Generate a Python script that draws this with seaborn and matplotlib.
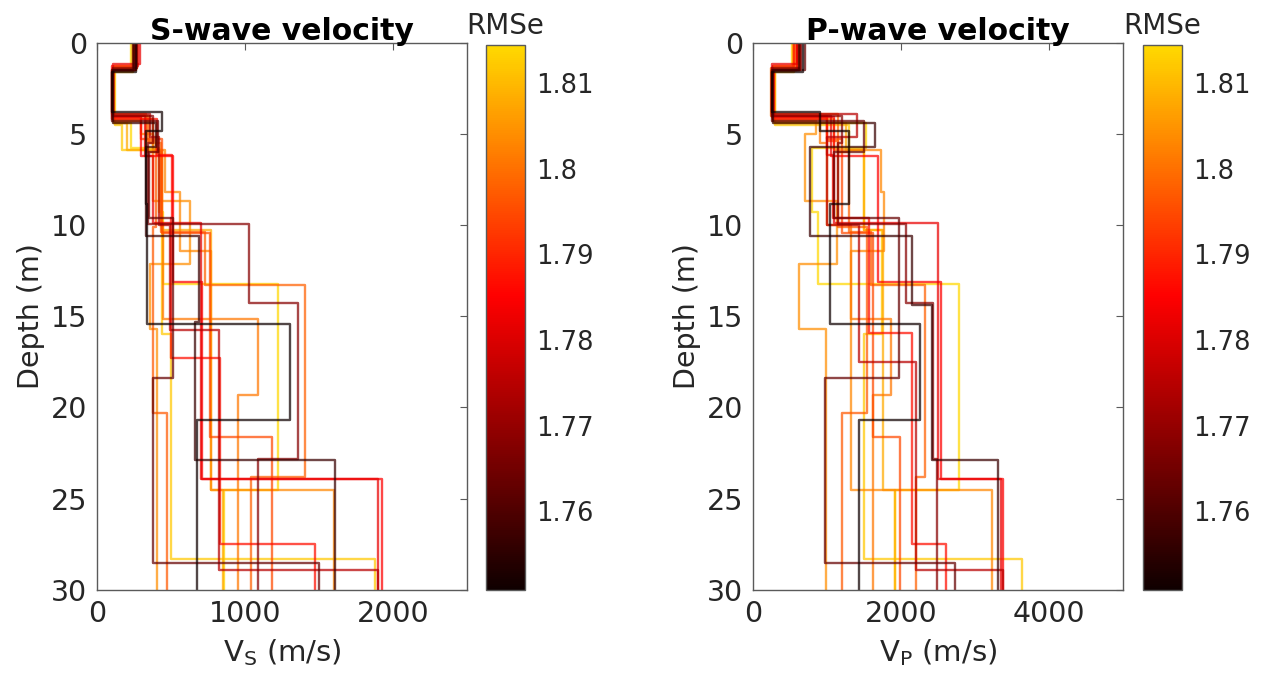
import numpy as np
import pandas as pd
import matplotlib
matplotlib.use("Agg")
import matplotlib.pyplot as plt
import seaborn as sns
from matplotlib.colors import LinearSegmentedColormap, Normalize
from matplotlib.cm import ScalarMappable

# ---------------- data (one entry per inverted model) ----------------
rmse = [1.751, 1.757, 1.768, 1.785, 1.787, 1.775, 1.763, 1.812, 1.814,
        1.803, 1.801, 1.798, 1.795, 1.804, 1.797, 1.782, 1.808]

# bottom depth of each layer (m)
layer_bottoms = [
    [1.6, 3.8, 4.85, 8.85, 15.45, 20.7, 30],
    [1.5, 4.4, 5.74, 10.6, 14.4, 15.3, 22.9, 30],
    [1.4, 4.0, 5.5, 9.95, 14.26, 22.8, 30],
    [1.5, 4.1, 6.2, 13.1, 23.9, 30],
    [1.3, 4.2, 6.16, 9.63, 15.9, 17.3, 27.5, 30],
    [1.5, 3.9, 5.2, 10.0, 15.75, 17.5, 28.9, 30],
    [1.5, 4.3, 6.0, 9.63, 18.4, 28.5, 30],
    [1.4, 4.5, 5.9, 10.3, 16.0, 28.3, 30],
    [1.3, 4.4, 5.8, 9.3, 13.25, 24.5, 30],
    [1.5, 4.2, 5.9, 8.2, 11.4, 24.5, 30],
    [1.4, 4.0, 5.5, 10.0, 15.17, 19.3, 30],
    [1.5, 3.9, 6.0, 10.4, 13.3, 23.8, 30],
    [1.5, 4.1, 5.3, 10.45, 21.6, 30],
    [1.5, 4.3, 5.0, 8.7, 12.15, 15.7, 30],
    [1.4, 4.0, 5.4, 10.1, 20.3, 30],
    [1.2, 4.0, 6.2, 9.9, 23.9, 30],
    [1.6, 4.4, 5.9, 10.3, 24.5, 30],
]

# S-wave velocity of each layer (m/s)
vs_layers = [
    [265, 100, 437, 330, 335, 1304, 673],
    [250, 110, 400, 330, 689, 689, 662, 1608],
    [270, 105, 380, 345, 1027, 1360, 1090],
    [255, 110, 300, 516, 712, 1928],
    [280, 100, 403, 509, 500, 500, 831, 1473],
    [260, 105, 360, 420, 493, 824, 824, 1896],
    [245, 100, 414, 350, 516, 380, 1500],
    [240, 120, 167, 437, 437, 500, 1878],
    [230, 115, 230, 420, 448, 1220, 860],
    [260, 105, 380, 460, 560, 770, 1600],
    [270, 110, 350, 430, 448, 1085, 955],
    [255, 100, 330, 430, 730, 1405, 1040],
    [250, 108, 300, 437, 760, 1180],
    [260, 112, 300, 380, 628, 358, 403],
    [265, 105, 340, 400, 380, 471],
    [290, 105, 324, 380, 700, 1900],
    [240, 115, 200, 440, 770, 853],
]

# P-wave velocity of each layer (m/s)
vp_layers = [
    [676, 260, 900, 1302, 1034, 2251, 1436],
    [620, 270, 1651, 765, 2152, 2412, 2412, 3306],
    [650, 250, 1200, 1150, 2063, 2430, 2488],
    [600, 280, 1100, 1683, 2533, 3383],
    [560, 270, 1000, 1080, 1571, 2152, 2152, 2613],
    [640, 260, 1400, 1000, 1436, 1436, 2197, 3383],
    [700, 250, 1500, 1100, 1973, 967, 2725],
    [560, 290, 1302, 1500, 1749, 1503, 3638],
    [520, 280, 1526, 800, 877, 2779, 1920],
    [600, 270, 1100, 1727, 1772, 1325, 3226],
    [610, 240, 900, 1000, 1325, 1861, 1624],
    [580, 250, 1150, 1300, 1600, 2322, 2197],
    [640, 260, 1000, 1200, 1615, 1982],
    [540, 270, 850, 700, 1132, 622, 980],
    [620, 260, 1000, 1150, 1535, 1204],
    [600, 260, 1056, 1100, 2500, 3350],
    [560, 290, 1250, 1500, 1750, 1920],
]

cbar_ticks = [1.76, 1.77, 1.78, 1.79, 1.80, 1.81]
cbar_ticklabels = ["1.76", "1.77", "1.78", "1.79", "1.8", "1.81"]
rmse_range = (1.7508, 1.8144)

# ---------------- styling ----------------
sns.set_theme(style="white")
plt.rcParams["font.family"] = ["DejaVu Sans"]
plt.rcParams["mathtext.default"] = "regular"

TXT = "#262626"
EDGE = "#5a5a5a"
cmap = LinearSegmentedColormap.from_list(
    "rmse_hot",
    [(0.0, (0.06, 0.0, 0.0)), (0.54, (1.0, 0.0, 0.0)),
     (0.78, (1.0, 0.45, 0.0)), (1.0, (1.0, 0.85, 0.0))])
norm = Normalize(*rmse_range)


def profile_frame(values):
    rows = []
    for k, (r, bots, vals) in enumerate(zip(rmse, layer_bottoms, values)):
        top = 0.0
        for b, v in zip(bots, vals):
            rows.append((k, r, v, top))
            rows.append((k, r, v, b))
            top = b
    return pd.DataFrame(rows, columns=["profile", "rmse", "velocity", "depth"])


fig = plt.figure(figsize=(12.65, 6.86), dpi=100)
ax_s = fig.add_axes([0.0767, 0.140, 0.2925, 0.798])
cax_s = fig.add_axes([0.384, 0.140, 0.031, 0.794])
ax_p = fig.add_axes([0.5953, 0.140, 0.2925, 0.798])
cax_p = fig.add_axes([0.9036, 0.140, 0.031, 0.794])

order = np.argsort(rmse)[::-1]  # best (darkest) models drawn last


def draw(ax, values, xmax, xticks, title, xlabel):
    df = profile_frame(values)
    for k in order:
        sub = df[df["profile"] == k]
        sns.lineplot(data=sub, x="velocity", y="depth", sort=False,
                     estimator=None, color=cmap(norm(rmse[k])),
                     linewidth=1.7, alpha=0.72, ax=ax, legend=False)
    ax.set_xlim(0, xmax)
    ax.set_ylim(30, 0)
    ax.set_xticks(xticks)
    ax.set_yticks(range(0, 31, 5))
    ax.tick_params(direction="in", top=True, right=True, length=5,
                   width=0.8, colors=EDGE, labelcolor=TXT,
                   labelsize=20.5, pad=7)
    for sp in ax.spines.values():
        sp.set_color(EDGE)
        sp.set_linewidth(1.0)
    ax.set_title(title, fontsize=21.5, fontweight="bold", color="black", pad=2)
    ax.set_xlabel(xlabel, fontsize=21, color=TXT, labelpad=7)
    ax.set_ylabel("Depth (m)", fontsize=20.5, color=TXT, labelpad=4)


def colorbar(cax):
    sm = ScalarMappable(norm=norm, cmap=cmap)
    cb = fig.colorbar(sm, cax=cax)
    cb.set_ticks(cbar_ticks)
    cb.set_ticklabels(cbar_ticklabels)
    cb.ax.tick_params(direction="in", length=4, width=0.8, colors=EDGE,
                      labelcolor=TXT, labelsize=18.5, pad=8)
    cb.outline.set_edgecolor(EDGE)
    cb.outline.set_linewidth(1.0)
    cb.ax.set_title("RMSe", fontsize=20, color=TXT, pad=8)


draw(ax_s, vs_layers, 2500, [0, 1000, 2000], "S-wave velocity",
     r"V$_{\mathrm{S}}$ (m/s)")
draw(ax_p, vp_layers, 5000, [0, 2000, 4000], "P-wave velocity",
     r"V$_{\mathrm{P}}$ (m/s)")
colorbar(cax_s)
colorbar(cax_p)

fig.savefig("out.png", dpi=100)
